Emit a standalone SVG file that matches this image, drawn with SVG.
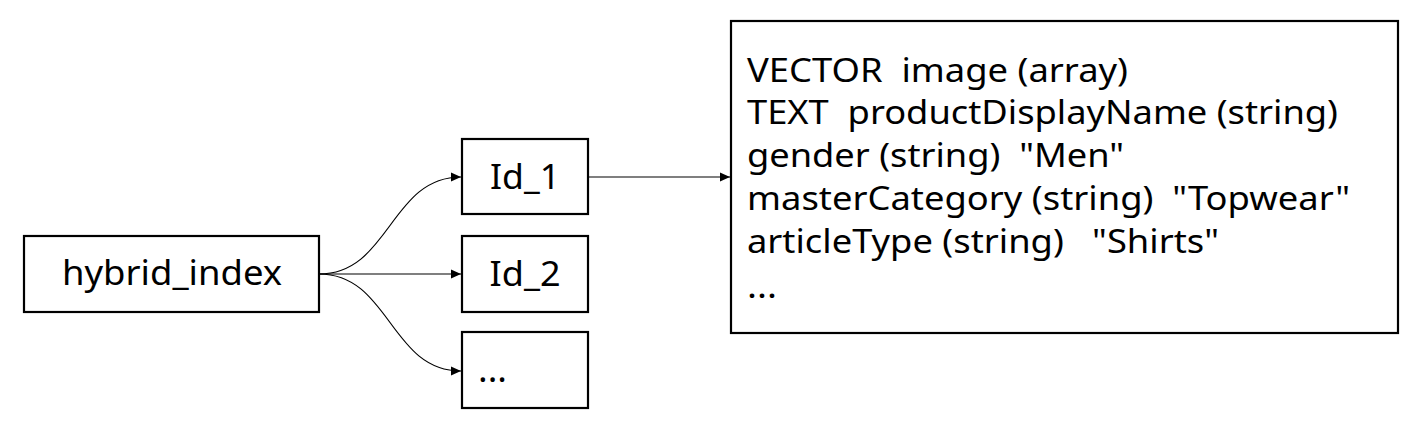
<svg xmlns="http://www.w3.org/2000/svg" width="1423" height="428" viewBox="0 0 1423 428">
<style>
.box{fill:#fff;stroke:#000;stroke-width:2.2}
.lbl{font-family:"Noto Sans","DejaVu Sans",sans-serif;font-size:34px;fill:#000}
.txt{font-family:"Noto Sans","DejaVu Sans",sans-serif;font-size:32px;fill:#000}
.con{fill:none;stroke:#000;stroke-width:1.2}
</style>
<defs>
<marker id="arr" viewBox="0 0 10 10" refX="10" refY="5" markerWidth="10" markerHeight="10" markerUnits="userSpaceOnUse" orient="auto">
<path d="M0,0.5 L10,5 L0,9.5 Z" fill="#000"/>
</marker>
</defs>
<rect width="1423" height="428" fill="#fff"/>
<g id="connectors">
<path class="con" d="M319,274 C390,274 390,177 461,177" marker-end="url(#arr)"/>
<path class="con" d="M319,274 L461,274" marker-end="url(#arr)"/>
<path class="con" d="M319,274 C390,274 390,371 461,371" marker-end="url(#arr)"/>
<path class="con" d="M588,177 L730,177" marker-end="url(#arr)"/>
</g>
<g id="hybrid_index">
<rect class="box" x="24" y="236" width="295" height="76"/>
<text class="lbl" x="172" y="285" text-anchor="middle" textLength="220" lengthAdjust="spacingAndGlyphs">hybrid_index</text>
</g>
<g id="id_1">
<rect class="box" x="462" y="139" width="126" height="75"/>
<text class="lbl" x="525" y="189" text-anchor="middle" textLength="70" lengthAdjust="spacingAndGlyphs">Id_1</text>
</g>
<g id="id_2">
<rect class="box" x="462" y="236" width="126" height="76"/>
<text class="lbl" x="525" y="286" text-anchor="middle" textLength="71" lengthAdjust="spacingAndGlyphs">Id_2</text>
</g>
<g id="id_more">
<rect class="box" x="462" y="332" width="126" height="76"/>
<text class="lbl" x="478" y="382" textLength="29" lengthAdjust="spacingAndGlyphs">...</text>
</g>
<g id="record">
<rect class="box" x="731" y="21" width="667" height="312"/>
<text class="txt" x="747" y="82" textLength="381" lengthAdjust="spacingAndGlyphs" xml:space="preserve">VECTOR  image (array)</text>
<text class="txt" x="747" y="124" textLength="591" lengthAdjust="spacingAndGlyphs" xml:space="preserve">TEXT  productDisplayName (string)</text>
<text class="txt" x="747" y="167" textLength="377" lengthAdjust="spacingAndGlyphs" xml:space="preserve">gender (string)  "Men"</text>
<text class="txt" x="747" y="210" textLength="603" lengthAdjust="spacingAndGlyphs" xml:space="preserve">masterCategory (string)  "Topwear"</text>
<text class="txt" x="747" y="253" textLength="472" lengthAdjust="spacingAndGlyphs" xml:space="preserve">articleType (string)   "Shirts"</text>
<text class="txt" x="747" y="298" textLength="30" lengthAdjust="spacingAndGlyphs">...</text>
</g>
</svg>
